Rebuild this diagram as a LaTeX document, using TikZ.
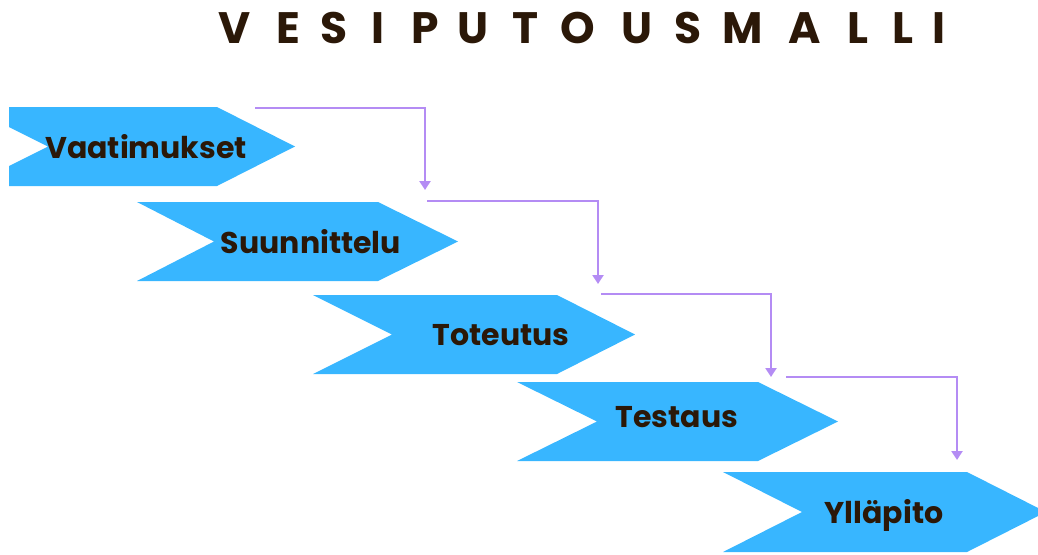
\documentclass[tikz,border=0pt]{standalone}
\usepackage{fontspec}
\usetikzlibrary{arrows.meta}
\newfontfamily\poppins{Poppins}
\definecolor{stepblue}{HTML}{38B6FF}
\definecolor{flowpurple}{HTML}{B48CF4}
\definecolor{inkbrown}{HTML}{2B1808}
\tikzset{
  chevfill/.style={fill=stepblue, draw=none},
  steplabel/.style={font=\poppins\bfseries\fontsize{30}{35}\selectfont, text=inkbrown, inner sep=0pt, anchor=base},
  titleletter/.style={font=\poppins\bfseries\fontsize{44}{50}\selectfont, text=inkbrown, inner sep=0pt, anchor=base},
  flow/.style={draw=flowpurple, line width=2.6pt, -{Triangle[width=11pt,length=9pt]}},
}
\begin{document}
\begin{tikzpicture}[x=1pt, y=-1pt]
\useasboundingbox (0,0) rectangle (1038,554);

% title, one letter at a time with wide spacing
\foreach \ch/\cx [count=\i] in {V/235,E/288,S/334,I/378,P/425,U/473,T/525,O/578,U/637,S/688,M/743,A/805,L/858,L/903,I/939}
  \node[titleletter] (t\i) at (\cx,43) {\ch};

% chevron steps: left / notch tip / right corner / arrow tip / top / bottom
\begin{scope}
\clip (9,0) rectangle (1038,554);
\foreach \l/\n/\c/\t/\ty/\by in {-31/48/217/295/107/186, 137/214/378/458/202/281, 313/392/557/635/295/374, 517/597/758/838/382/461, 723/802/967/1046/472/552}
  \fill[chevfill] (\l,\ty) -- (\c,\ty) -- (\t,{(\ty+\by)/2}) -- (\c,\by) -- (\l,\by) -- (\n,{(\ty+\by)/2}) -- cycle;
\end{scope}

% step labels
\node[steplabel] (s1) at (146,158) {Vaatimukset};
\node[steplabel] (s2) at (311,253) {Suunnittelu};
\node[steplabel] (s3) at (501,345) {Toteutus};
\node[steplabel] (s4) at (677,427) {Testaus};
\node[steplabel] (s5) at (884,523) {Ylläpito};

% connector end points
\coordinate (a1) at (255,108);  \coordinate (b1) at (425,190);
\coordinate (a2) at (427,201);  \coordinate (b2) at (598,284);
\coordinate (a3) at (601,294);  \coordinate (b3) at (771,377);
\coordinate (a4) at (786,377);  \coordinate (b4) at (957,460);

\foreach \k in {1,...,4}
  \draw[flow] (a\k) -| (b\k);
\end{tikzpicture}
\end{document}
